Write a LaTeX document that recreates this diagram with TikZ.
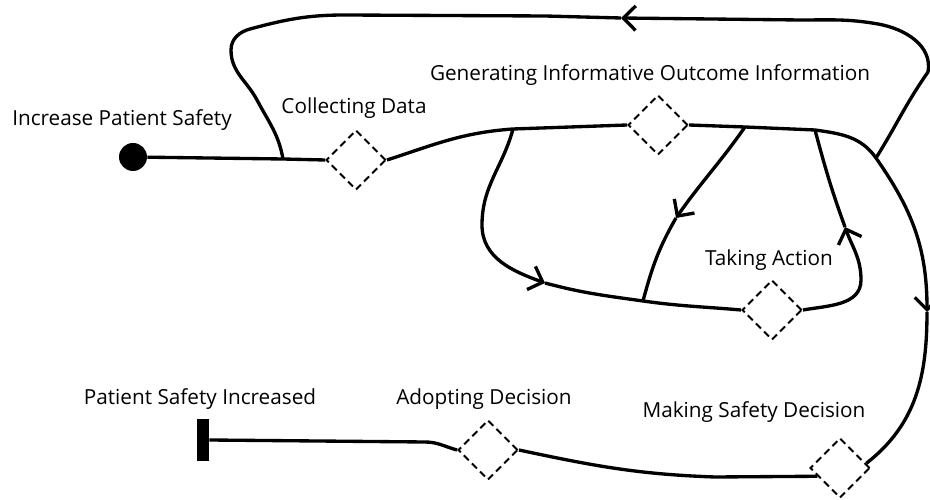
\documentclass[tikz,border=0pt]{standalone}
\usepackage{fontspec}
\setmainfont{Open Sans}
\usetikzlibrary{arrows.meta,positioning,shapes.geometric}

\begin{document}
\begin{tikzpicture}[x=0.02cm, y=0.02cm, font=\fontsize{11.8}{13}\selectfont,
  flow/.style={line width=1.9pt, line join=round},
  flowtip/.style={-{Straight Barb[length=7pt,width=14pt]}},
  act/.style={draw, shape=diamond, line width=1.1pt, dash pattern=on 4pt off 2.5pt,
    minimum width=1.2cm, minimum height=1.2cm, inner sep=0pt},
  lbl/.style={inner sep=0pt}]
  \useasboundingbox (0,0) rectangle (930,500);
  % start and end
  \node[circle, fill, minimum size=0.56cm, inner sep=0pt] (start) at (133,343) {};
  \node[fill, minimum width=0.24cm, minimum height=0.84cm, inner sep=0pt] (stop) at (203,60) {};
  % activities
  \node[act] (collect) at (356,340) {};
  \node[act] (gen)     at (658,375) {};
  \node[act] (action)  at (772,190) {};
  \node[act] (safety)  at (840,32) {};
  \node[act] (adopt)   at (488,50) {};
  % labels
  \node[lbl] (startlbl)   at (122,380) {Increase Patient Safety};
  \node[lbl] (collectlbl) at (354,392) {Collecting Data};
  \node[lbl] (genlbl)     at (650,425) {Generating Informative Outcome Information};
  \node[lbl] (actionlbl)  at (769,240) {Taking Action};
  \node[lbl] (safetylbl)  at (754,88)  {Making Safety Decision};
  \node[lbl] (adoptlbl)   at (484,101) {Adopting Decision};
  \node[lbl] (stoplbl)    at (200,101) {Patient Safety Increased};
  % junctions and arrow points
  \coordinate (jl) at (283,341);
  \coordinate (ja) at (513,371);
  \coordinate (jb) at (745,373);
  \coordinate (jc) at (815,370);
  \coordinate (jr) at (876,342);
  \coordinate (jd) at (643,199);
  \coordinate (atop)   at (621,482);
  \coordinate (aright) at (927,188);
  \coordinate (aleft)  at (545,217);
  \coordinate (amid)   at (676,282);
  \coordinate (aback)  at (845,273);
  % main line
  \draw[flow] (start) -- (jl) -- (collect.west);
  \draw[flow] (collect.east) to[out=18,in=184] (ja) -- (gen.west);
  \draw[flow] (gen.east) -- (jb) -- (jc);
  \draw[flow, flowtip] (jc) to[out=-8,in=125] (jr) to[out=-55,in=90] (aright);
  \draw[flow] (aright) to[out=-90,in=38] (safety.10);
  \draw[flow] (safety.200) -- (715,23) to[out=178,in=-12] (adopt.east);
  \draw[flow] (adopt.west) to[out=165,in=0] (425,58) -- (stop.east);
  % loop back to the start
  \draw[flow, flowtip] (jr) to[out=58,in=-125] (928,428) to[out=80,in=-10] (878,476)
    to[out=170,in=0] (800,480) -- (atop);
  \draw[flow] (atop) -- (545,484) -- (345,485) to[out=180,in=15] (250,471)
    to[out=195,in=90] (231,450) to[out=-90,in=118] (257,400) to[out=-62,in=100] (jl);
  % inner loop through Taking Action
  \draw[flow, flowtip] (ja) to[out=-105,in=90] (482,275) to[out=-90,in=160] (aleft);
  \draw[flow] (aleft) to[out=-15,in=172] (jd) to[out=-8,in=175] (action.west);
  \draw[flow, flowtip] (jb) to[out=-125,in=55] (amid);
  \draw[flow] (amid) to[out=-120,in=75] (jd);
  \draw[flow, flowtip] (action.east) to[out=10,in=-90] (861,220) to[out=90,in=-70] (aback);
  \draw[flow] (aback) to[out=110,in=-75] (jc);
\end{tikzpicture}
\end{document}
